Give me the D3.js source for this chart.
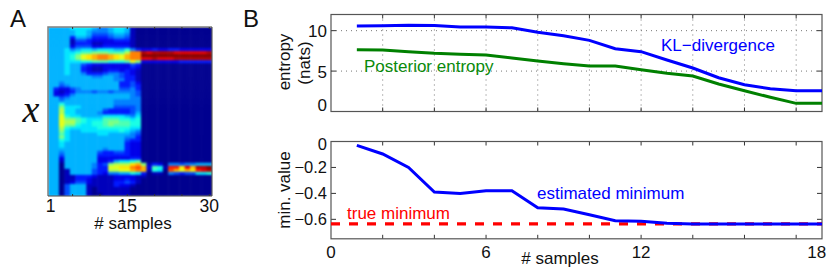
<!DOCTYPE html>
<html>
<head>
<meta charset="utf-8">
<script src="https://cdn.jsdelivr.net/npm/d3@7"></script>
<style>
    html, body { margin: 0; padding: 0; background: #fff; }
    svg { display: block; }
    text { font-family: "Liberation Sans", Arial, sans-serif; fill: #111; }
</style>
</head>
<body>
<svg id="chart" width="830" height="270"></svg>
<script>
// panel A, one string per x bin, one base-36 digit per sample (0 = navy ... k = dark red)
// groups are only there for reading: samples 1-4, 5-8, 9-12, 13-17, 18-30
const heatRows = [
    "6666 7777 6556 77610 0000000000000",
    "6666 6776 5556 77610 0000000000000",
    "6666 6776 4445 66510 0000000000000",
    "6666 3665 3334 55410 0000000000000",
    "6666 1443 2222 33310 0000000000000",
    "6666 1333 1122 22210 0000000000000",
    "6666 2444 2233 33310 0000000000000",
    "6667 5677 6777 66853 2232233222222",
    "6667 7899 aaa9 99bff jijjjjiiiiiij",
    "6667 8acd effe dceff kkkkkkkkkkkkk",
    "6667 8acd effe dceff iijiiijjjjjjj",
    "6667 7788 9998 889ca 2222222333333",
    "6667 6643 2222 22243 0000000000000",
    "6667 6632 1122 22232 0000000000000",
    "6667 6632 1123 32321 0000000000000",
    "6667 6653 3345 54321 0000000000000",
    "6666 6666 5566 54331 0000000000000",
    "6666 6666 6666 55331 0000000000000",
    "6656 6666 6666 63342 0000000000000",
    "6645 6666 6666 63343 0000000000000",
    "6322 4566 6666 64453 0000000000000",
    "6212 3555 4554 55554 0000000000000",
    "6223 5666 6666 66654 0000000000000",
    "6645 6666 6666 66655 0000000000000",
    "6656 6666 6666 55555 0000000000000",
    "6686 6666 6666 55555 0000000000000",
    "66a7 7766 6666 44445 0000000000000",
    "66b7 7666 6643 33345 0000000000000",
    "66b7 7666 6533 33346 0000000000000",
    "66c8 7766 6677 77657 0000000000000",
    "66ca a987 7799 98878 0000000000000",
    "66cb b987 889a a9988 0000000000000",
    "66ca a877 889a 99988 0000000000000",
    "66b8 7777 7888 88877 0000000000000",
    "66a7 6677 7777 78765 0000000000000",
    "6697 6666 6776 66654 0000000000000",
    "66a7 6666 6666 66553 0000000000000",
    "6687 6666 6666 66433 0000000000000",
    "6676 6666 6666 66322 0000000000000",
    "6676 6666 6666 66322 0000000000000",
    "6666 6666 6656 66322 0000000000000",
    "6656 6666 6433 44322 0000000000000",
    "6646 6666 6333 33322 0000000000000",
    "6626 6666 6222 22233 0000000000000",
    "6616 6666 6223 67789 0000000000000",
    "6606 6666 534a bbbde a132055455666",
    "6606 6666 533c cddfg e2981hhdiejjk",
    "6601 6666 433b bccef e1870gecedhij",
    "6601 6666 4325 56687 3011054344778",
    "6601 1333 2111 22221 1000000000000",
    "6601 1332 1111 22321 0000000000000",
    "6601 2442 1111 33431 0000000000000",
    "6604 6661 1111 32210 0000000000000",
    "6604 6661 0111 11100 0000000000000",
    "6604 6661 0111 11100 0000000000000",
    "6604 6661 0011 11100 0000000000000"
];
const heatTicks = [5, 10, 15, 20, 25, 30];
const heatLabels = [1, 15, 30];

// panel B, samples 1..19
const samples = d3.range(1, 20);
const klDivergence = [10.58, 10.6, 10.68, 10.65, 10.45, 10.45, 10.35, 9.8, 9.38, 8.8, 7.77, 7.4, 6.37, 5.38, 4.18, 3.32, 2.82, 2.57, 2.57];
const posteriorEntropy = [7.65, 7.6, 7.4, 7.2, 7.08, 7.0, 6.62, 6.25, 5.92, 5.63, 5.63, 5.17, 4.72, 4.39, 3.4, 2.57, 1.76, 1.01, 1.01];
const estimatedMinimum = [-0.03, -0.096, -0.2, -0.39, -0.4, -0.38, -0.38, -0.51, -0.52, -0.565, -0.61, -0.615, -0.63, -0.635, -0.635, -0.635, -0.635, -0.635, -0.635];
const trueMinimum = -0.635;

const sampleTicks = d3.range(0, 20, 2);
const entropyTicks = [0, 5, 10];
const minTicks = [-0.6, -0.4, -0.2, 0];
// the last label sits at the right edge in the original, not under its tick
const sampleLabels = [[0, "0"], [6, "6"], [12, "12"], [18.8, "18"]];

const svg = d3.select("#chart");
const frameColor = "#555";

const jet = d3.scaleLinear()
    .domain([0, 0.125, 0.375, 0.625, 0.875, 1])
    .range(["#00008f", "#0000ff", "#00ffff", "#ffff00", "#ff0000", "#800000"])
    .clamp(true);

function addLabel(x, y, txt, size, color, anchor) {
    return svg.append("text")
        .attr("x", x)
        .attr("y", y)
        .attr("font-size", size)
        .attr("text-anchor", anchor || "start")
        .style("fill", color || "#111")
        .text(txt);
}

function addFrame(x0, y0, x1, y1) {
    svg.append("rect")
        .attr("x", x0).attr("y", y0)
        .attr("width", x1 - x0).attr("height", y1 - y0)
        .attr("fill", "none")
        .attr("stroke", frameColor)
        .attr("stroke-width", 1.2);
}

function drawHeat() {
    const left = 48, right = 212, top = 27, bottom = 196;
    const rows = heatRows.map(r => r.replace(/ /g, "").split("").map(c => parseInt(c, 36) / 20));

    const xBand = d3.scaleBand().domain(d3.range(30)).range([left, right]);
    const yBand = d3.scaleBand().domain(d3.range(rows.length)).range([top, bottom]);
    const xTick = d3.scaleLinear().domain([0.5, 30.5]).range([left, right]);

    svg.append("clipPath").attr("id", "heatClip")
        .append("rect")
        .attr("x", left).attr("y", top)
        .attr("width", right - left).attr("height", bottom - top);

    // blur, the original is a resampled bitmap
    let cells = svg.append("g").attr("clip-path", "url(#heatClip)")
        .append("g").style("filter", "blur(0.9px)");

    rows.forEach((row, j) => {
        cells.selectAll(".row" + j)
            .data(row)
            .enter()
            .append("rect")
            .attr("class", "row" + j)
            .attr("x", (d, i) => xBand(i))
            .attr("y", yBand(j))
            .attr("width", xBand.bandwidth() + 0.5)
            .attr("height", yBand.bandwidth() + 0.5)
            .attr("fill", d => jet(d));
    });

    svg.append("path")
        .attr("d", `M${left},${bottom}V${top}H${right}`)
        .attr("fill", "none").attr("stroke", "#808080").attr("stroke-width", 1.5);
    svg.append("path")
        .attr("d", `M${left},${bottom}H${right}V${top}`)
        .attr("fill", "none").attr("stroke", "#444").attr("stroke-width", 1);

    let ticks = svg.append("g").attr("stroke", "#333");
    heatTicks.forEach(t => {
        ticks.append("line").attr("x1", xTick(t)).attr("x2", xTick(t)).attr("y1", top).attr("y2", top + 2);
        ticks.append("line").attr("x1", xTick(t)).attr("x2", xTick(t)).attr("y1", bottom).attr("y2", bottom - 2);
    });

    heatLabels.forEach(t => addLabel(xTick(t), 212, t, 17.5, "#111", "middle"));
    addLabel(133, 229, "# samples", 17, "#111", "middle");

    addLabel(10, 27, "A", 24);
    svg.append("text")
        .attr("x", 31).attr("y", 122)
        .attr("text-anchor", "middle")
        .attr("font-size", 38)
        .style("font-family", '"Liberation Serif", serif')
        .style("font-style", "italic")
        .text("x");
}

function drawPanel(yDomain, top, bottom, yTicks, grid) {
    const left = 331, right = 822;
    const x = d3.scaleLinear().domain([0, 19]).range([left, right]);
    const y = d3.scaleLinear().domain(yDomain).range([bottom, top]);

    let g = svg.append("g");
    if (grid) {
        let dots = g.append("g")
            .attr("stroke", "#777")
            .attr("stroke-width", 1)
            .attr("stroke-dasharray", "1,4");
        sampleTicks.slice(1).forEach(t => {
            dots.append("line").attr("x1", x(t)).attr("x2", x(t)).attr("y1", top).attr("y2", bottom);
        });
        yTicks.filter(t => t !== 0).forEach(t => {
            dots.append("line").attr("x1", left).attr("x2", right).attr("y1", y(t)).attr("y2", y(t));
        });
    }

    let ticks = g.append("g").attr("stroke", "#333");
    sampleTicks.slice(1).forEach(t => {
        ticks.append("line").attr("x1", x(t)).attr("x2", x(t)).attr("y1", top).attr("y2", top + 4);
        ticks.append("line").attr("x1", x(t)).attr("x2", x(t)).attr("y1", bottom).attr("y2", bottom - 4);
    });
    yTicks.filter(t => t !== 0).forEach(t => {
        ticks.append("line").attr("x1", left).attr("x2", left + 5).attr("y1", y(t)).attr("y2", y(t));
        ticks.append("line").attr("x1", right).attr("x2", right - 5).attr("y1", y(t)).attr("y2", y(t));
    });

    addFrame(left, top, right, bottom);
    return {x: x, y: y};
}

function drawLine(panel, values, color, width, dash) {
    const line = d3.line()
        .x((d, i) => panel.x(samples[i]))
        .y(d => panel.y(d));
    svg.append("path")
        .attr("d", line(values))
        .attr("fill", "none")
        .attr("stroke", color)
        .attr("stroke-width", width)
        .attr("stroke-dasharray", dash || null);
}

function drawEntropy() {
    const panel = drawPanel([0, 12], 14.5, 111.5, entropyTicks, true);
    drawLine(panel, posteriorEntropy, "#008000", 3);
    drawLine(panel, klDivergence, "#0000ff", 3);

    entropyTicks.forEach(t => {
        // the zero is pushed up so it stays inside the frame height
        let yPos = t === 0 ? 111 : panel.y(t) + 6.5;
        addLabel(327, yPos, t, 17, "#111", "end");
    });

    addLabel(243, 27, "B", 24);
    svg.append("g").attr("transform", "translate(290,62) rotate(-90)")
        .append("text").attr("text-anchor", "middle").attr("font-size", 17).text("entropy");
    svg.append("g").attr("transform", "translate(310,63) rotate(-90)")
        .append("text").attr("text-anchor", "middle").attr("font-size", 17).text("(nats)");

    addLabel(364, 72, "Posterior entropy", 17, "#0a8a0a");
    addLabel(661, 51, "KL\u2212divergence", 17, "#0000ff");
}

function drawMinimum() {
    const panel = drawPanel([-0.75, 0], 141.5, 238.8, minTicks, false);

    svg.append("line")
        .attr("x1", panel.x(0)).attr("x2", panel.x(19))
        .attr("y1", panel.y(trueMinimum)).attr("y2", panel.y(trueMinimum))
        .attr("stroke", "#ff0000")
        .attr("stroke-width", 3.2)
        .attr("stroke-dasharray", "9,9");
    drawLine(panel, estimatedMinimum, "#0000ff", 3);

    minTicks.forEach(t => {
        // same for the zero here, pushed down below the frame line
        let yPos = t === 0 ? 150 : panel.y(t) + 6;
        addLabel(327, yPos, t === 0 ? "0" : "\u2212" + Math.abs(t), 16.5, "#111", "end");
    });

    sampleLabels.forEach(d => addLabel(panel.x(d[0]), 258, d[1], 17, "#111", "middle"));
    addLabel(560, 264, "# samples", 17, "#111", "middle");

    svg.append("g").attr("transform", "translate(290,190) rotate(-90)")
        .append("text").attr("text-anchor", "middle").attr("font-size", 17).text("min. value");

    addLabel(347, 219, "true minimum", 17, "#ff0000");
    addLabel(537, 199, "estimated minimum", 17, "#0000ff");
}

drawHeat();
drawEntropy();
drawMinimum();
</script>
</body>
</html>
